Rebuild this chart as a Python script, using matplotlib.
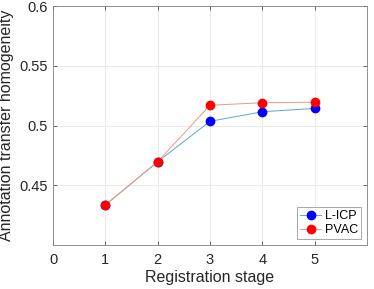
import numpy as np
import matplotlib.pyplot as plt

plt.rcParams['font.family'] = ['Liberation Sans', 'DejaVu Sans']

stages = [1, 2, 3, 4, 5]
licp = [0.4335, 0.4697, 0.5035, 0.5115, 0.5143]
pvac = [0.4335, 0.4697, 0.5170, 0.5190, 0.5195]

fig = plt.figure(figsize=(3.74, 2.89), dpi=100)
ax = fig.add_axes([53 / 374, 44 / 289, 314 / 374, 239 / 289])

ax.plot(stages, licp, '-', color='#5aa5db', lw=0.7, marker='o', ms=6,
        mfc='#0000ff', mec='#0000ff', label='L-ICP')
ax.plot(stages, pvac, '-', color='#eb9a7e', lw=0.7, marker='o', ms=6,
        mfc='#ff0000', mec='#ff0000', label='PVAC')

ax.set_xlim(0, 6)
ax.set_ylim(0.4, 0.6)
ax.set_xticks([0, 1, 2, 3, 4, 5])
ax.set_yticks([0.45, 0.5, 0.55, 0.6])
ax.set_yticklabels(['0.45', '0.5', '0.55', '0.6'])
ax.grid(True, color='#e6e6e6', lw=0.6)
ax.set_axisbelow(True)
ax.tick_params(direction='in', top=True, right=True, length=3, width=0.6,
               color='#4d4d4d', labelsize=10.5, labelcolor='#262626')
ax.tick_params(axis='x', pad=6)
for s in ax.spines.values():
    s.set_color('#808080')
    s.set_linewidth(0.6)

ax.set_xlabel('Registration stage', fontsize=11.5, color='#262626', labelpad=2)
ax.set_ylabel('Annotation transfer homogeneity', fontsize=11.5, color='#262626', labelpad=4)

leg = ax.legend(loc='lower right', fontsize=9, frameon=True, fancybox=False,
                edgecolor='#808080', handlelength=1.7, borderpad=0.25,
                labelspacing=0.15, handletextpad=0.3, borderaxespad=0.45)
leg.get_frame().set_linewidth(0.6)

fig.savefig('out.png', dpi=100)
